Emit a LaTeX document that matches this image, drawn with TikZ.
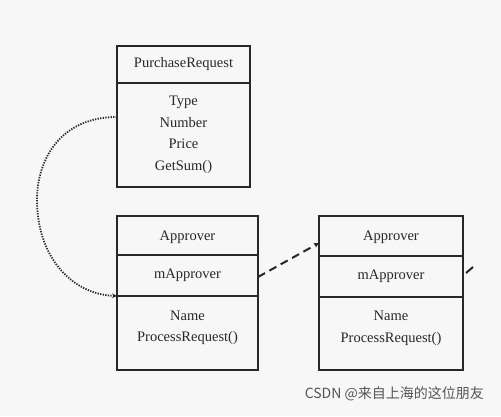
\documentclass[tikz,border=0pt]{standalone}
\usepackage{fontspec}
\setmainfont{Liberation Serif}
\newfontfamily\cjkfont{Noto Sans CJK SC}
\usetikzlibrary{arrows.meta,calc}
\definecolor{bgc}{RGB}{247,247,247}
\definecolor{ink}{RGB}{40,40,40}
\definecolor{wm}{RGB}{85,85,85}
\tikzset{
  comp/.style={draw=ink, line width=1.7pt, rectangle, inner sep=0pt, outer sep=0pt,
    text=ink, align=center, font=\fontsize{14.5}{21.5}\selectfont},
  dotarrow/.style={draw=ink, line width=1.8pt, dash pattern=on 1.3pt off 1.3pt, -{Stealth[length=5pt,width=4.5pt]}},
  dasharrow/.style={draw=ink, line width=2pt, dash pattern=on 8pt off 5pt, -{Stealth[length=5pt,width=5pt]}},
  dashstub/.style={draw=ink, line width=2pt}
}
\begin{document}
\begin{tikzpicture}[x=1pt,y=-1pt]
\fill[bgc] (0,0) rectangle (501,416);
\useasboundingbox (0,0) rectangle (501,416);
% PurchaseRequest box
\node[comp, minimum width=133pt, minimum height=37pt, anchor=north west] (prT) at (117,46) {PurchaseRequest};
\node[comp, minimum width=133pt, minimum height=104pt, anchor=north west] (prB) at (prT.south west) {Type\\Number\\Price\\GetSum()};
% Approver 1
\node[comp, minimum width=141pt, minimum height=39pt, anchor=north west, text depth=0pt] (a1T) at (117,216) {Approver};
\node[comp, minimum width=141pt, minimum height=41pt, anchor=north west] (a1M) at (a1T.south west) {mApprover};
\node[comp, minimum width=141pt, minimum height=74pt, anchor=north west] (a1B) at (a1M.south west) {Name\\ProcessRequest()\\[-8pt]};
% Approver 2
\node[comp, minimum width=144pt, minimum height=40pt, anchor=north west, text depth=0pt] (a2T) at (319,216) {Approver};
\node[comp, minimum width=144pt, minimum height=41pt, anchor=north west] (a2M) at (a2T.south west) {mApprover};
\node[comp, minimum width=144pt, minimum height=73pt, anchor=north west] (a2B) at (a2M.south west) {Name\\ProcessRequest()\\[-8pt]};
% connectors
\coordinate (s1) at (prB.west |- 0,117);
\coordinate (e1) at (a1B.north west);
\draw[dotarrow] (s1) .. controls (60,117) and (37,160) .. (37,200) .. controls (37,255) and (70,294) .. (e1);
\coordinate (s2) at (a1M.east |- 0,277);
\coordinate (e2) at (a2T.west |- 0,243);
\draw[dasharrow] (s2) -- (e2);
\coordinate (s3) at ($(a2M.east |- 0,273)+(3,0)$);
\coordinate (e3) at (473,267);
\draw[dashstub] (s3) -- (e3);
% watermark
\node[anchor=east, text=wm, font=\cjkfont\fontsize{14}{16}\selectfont, inner sep=0pt] (wm) at (484,394) {CSDN @来自上海的这位朋友};
\end{tikzpicture}
\end{document}
